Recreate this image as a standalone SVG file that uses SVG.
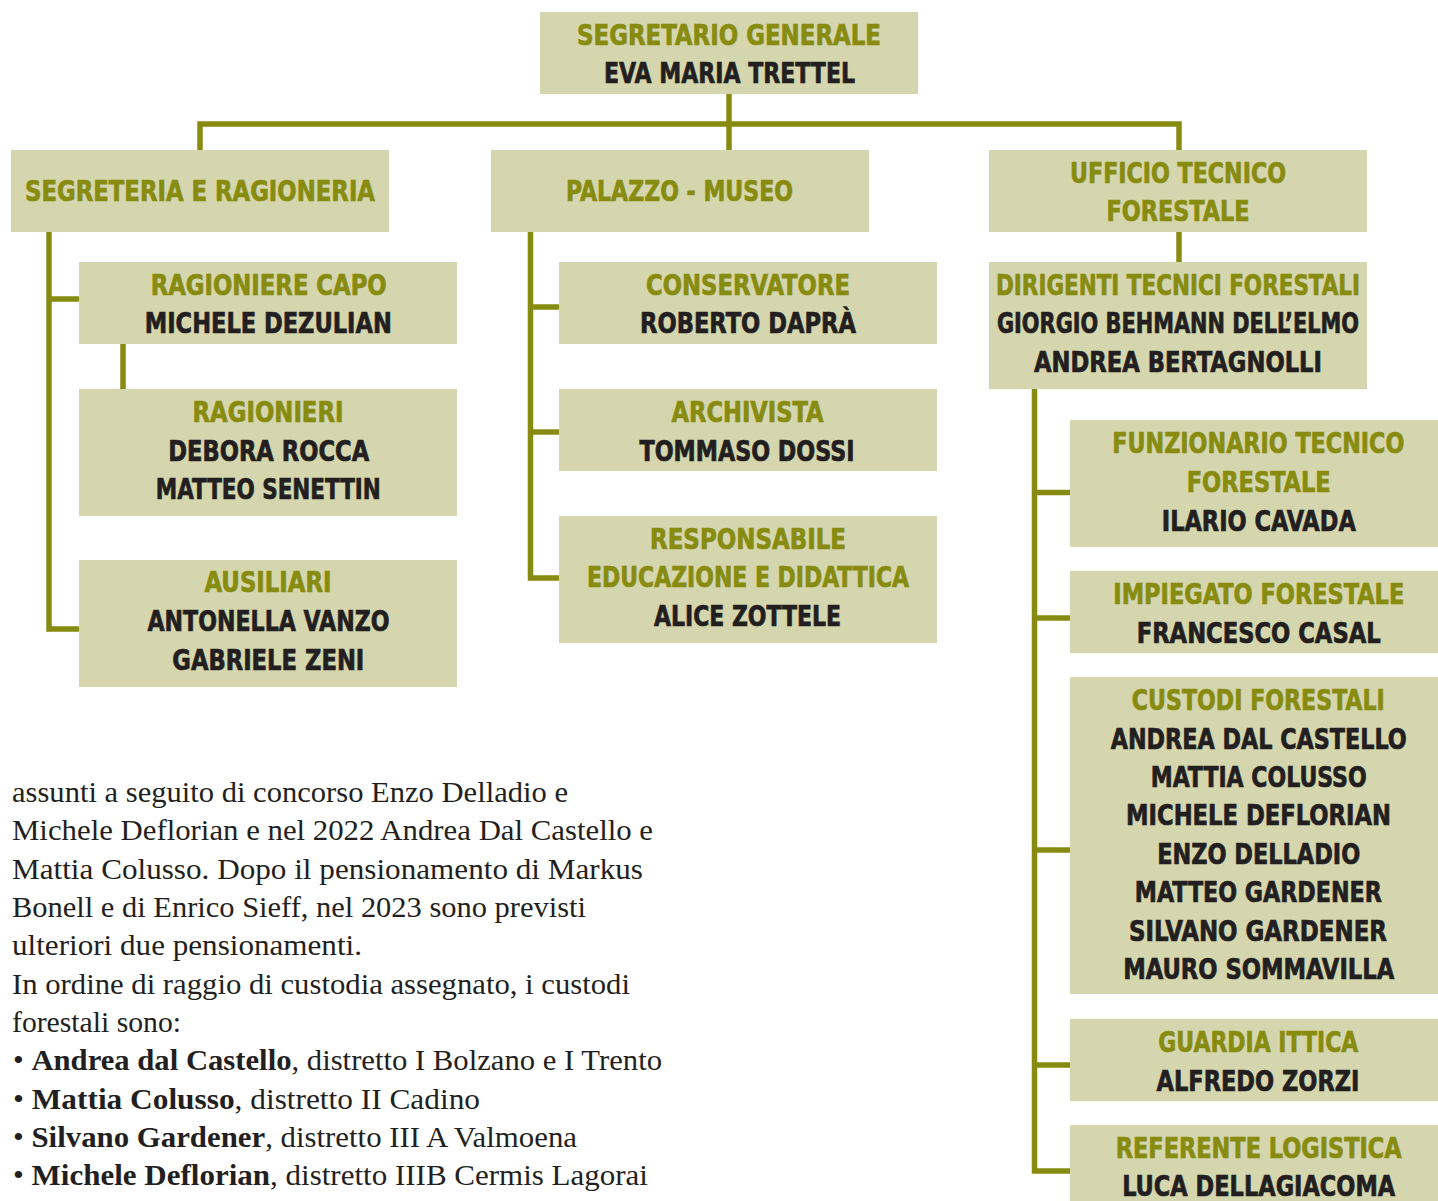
<svg xmlns="http://www.w3.org/2000/svg" width="1438" height="1201" viewBox="0 0 1438 1201">
<style>
.box{fill:#d5d6ae}
.t{font-family:"Liberation Sans Narrow","DejaVu Sans Condensed","Liberation Sans",sans-serif;font-weight:bold;font-size:29px;text-anchor:middle;fill:#878c10;stroke:#878c10;stroke-width:0.7px}
.n{font-family:"Liberation Sans Narrow","DejaVu Sans Condensed","Liberation Sans",sans-serif;font-weight:bold;font-size:29px;text-anchor:middle;fill:#231f20;stroke:#231f20;stroke-width:0.7px}
.c{fill:none;stroke:#878c10;stroke-width:5.5;stroke-linejoin:miter;stroke-linecap:butt}
.b{font-family:"Liberation Serif","Times New Roman",serif;font-size:29px;fill:#231f20}
.bb{font-weight:bold}
</style>
<rect width="1438" height="1201" fill="#ffffff"/>
<g id="connectors">
<path class="c" d="M729 93 V150"/>
<path class="c" d="M200 150 V124 H1179 V150"/>
<path class="c" d="M49 232 V629 H79"/>
<path class="c" d="M49 299 H79"/>
<path class="c" d="M123 344 V389"/>
<path class="c" d="M530.5 232 V578 H559"/>
<path class="c" d="M530.5 307 H559"/>
<path class="c" d="M530.5 432 H559"/>
<path class="c" d="M1179 232 V262"/>
<path class="c" d="M1034.5 389 V1171 H1070"/>
<path class="c" d="M1034.5 492.5 H1070"/>
<path class="c" d="M1034.5 618 H1070"/>
<path class="c" d="M1034.5 850 H1070"/>
<path class="c" d="M1034.5 1065 H1070"/>
</g>
<g id="segretario-generale">
<rect class="box" x="540" y="12" width="378" height="82"/>
<text class="t" x="729" y="45" textLength="304" lengthAdjust="spacingAndGlyphs">SEGRETARIO GENERALE</text>
<text class="n" x="729.5" y="83" textLength="251" lengthAdjust="spacingAndGlyphs">EVA MARIA TRETTEL</text>
</g>
<g id="segreteria">
<rect class="box" x="11" y="150" width="378" height="82"/>
<text class="t" x="200" y="201" textLength="350" lengthAdjust="spacingAndGlyphs">SEGRETERIA E RAGIONERIA</text>
</g>
<g id="palazzo">
<rect class="box" x="491" y="150" width="378" height="82"/>
<text class="t" x="679.5" y="201" textLength="227" lengthAdjust="spacingAndGlyphs">PALAZZO - MUSEO</text>
</g>
<g id="ufficio">
<rect class="box" x="989" y="150" width="378" height="82"/>
<text class="t" x="1178" y="182.5" textLength="216" lengthAdjust="spacingAndGlyphs">UFFICIO TECNICO</text>
<text class="t" x="1178" y="221" textLength="143" lengthAdjust="spacingAndGlyphs">FORESTALE</text>
</g>
<g id="ragioniere-capo">
<rect class="box" x="79" y="262" width="378" height="82"/>
<text class="t" x="268.7" y="295" textLength="236" lengthAdjust="spacingAndGlyphs">RAGIONIERE CAPO</text>
<text class="n" x="268.3" y="333" textLength="247" lengthAdjust="spacingAndGlyphs">MICHELE DEZULIAN</text>
</g>
<g id="ragionieri">
<rect class="box" x="79" y="389" width="378" height="127"/>
<text class="t" x="268" y="422" textLength="151" lengthAdjust="spacingAndGlyphs">RAGIONIERI</text>
<text class="n" x="268.7" y="460.5" textLength="201" lengthAdjust="spacingAndGlyphs">DEBORA ROCCA</text>
<text class="n" x="268.3" y="499" textLength="225" lengthAdjust="spacingAndGlyphs">MATTEO SENETTIN</text>
</g>
<g id="ausiliari">
<rect class="box" x="79" y="560" width="378" height="127"/>
<text class="t" x="268" y="592" textLength="127" lengthAdjust="spacingAndGlyphs">AUSILIARI</text>
<text class="n" x="268.5" y="631" textLength="242" lengthAdjust="spacingAndGlyphs">ANTONELLA VANZO</text>
<text class="n" x="268.3" y="669.5" textLength="192" lengthAdjust="spacingAndGlyphs">GABRIELE ZENI</text>
</g>
<g id="conservatore">
<rect class="box" x="559" y="262" width="378" height="82"/>
<text class="t" x="748" y="295" textLength="204" lengthAdjust="spacingAndGlyphs">CONSERVATORE</text>
<text class="n" x="748" y="333" textLength="216" lengthAdjust="spacingAndGlyphs">ROBERTO DAPRÀ</text>
</g>
<g id="archivista">
<rect class="box" x="559" y="389" width="378" height="82"/>
<text class="t" x="747.5" y="422" textLength="152" lengthAdjust="spacingAndGlyphs">ARCHIVISTA</text>
<text class="n" x="747" y="460.5" textLength="215" lengthAdjust="spacingAndGlyphs">TOMMASO DOSSI</text>
</g>
<g id="responsabile">
<rect class="box" x="559" y="516" width="378" height="127"/>
<text class="t" x="748" y="549" textLength="196" lengthAdjust="spacingAndGlyphs">RESPONSABILE</text>
<text class="t" x="748" y="587" textLength="322" lengthAdjust="spacingAndGlyphs">EDUCAZIONE E DIDATTICA</text>
<text class="n" x="747.5" y="625.5" textLength="187" lengthAdjust="spacingAndGlyphs">ALICE ZOTTELE</text>
</g>
<g id="dirigenti">
<rect class="box" x="989" y="262" width="378" height="127"/>
<text class="t" x="1178" y="295" textLength="364" lengthAdjust="spacingAndGlyphs">DIRIGENTI TECNICI FORESTALI</text>
<text class="n" x="1178" y="333" textLength="362" lengthAdjust="spacingAndGlyphs">GIORGIO BEHMANN DELL’ELMO</text>
<text class="n" x="1178" y="371.5" textLength="288" lengthAdjust="spacingAndGlyphs">ANDREA BERTAGNOLLI</text>
</g>
<g id="funzionario">
<rect class="box" x="1070" y="420" width="368" height="127"/>
<text class="t" x="1258.3" y="453" textLength="292" lengthAdjust="spacingAndGlyphs">FUNZIONARIO TECNICO</text>
<text class="t" x="1258.7" y="492" textLength="144" lengthAdjust="spacingAndGlyphs">FORESTALE</text>
<text class="n" x="1258.8" y="530.5" textLength="194" lengthAdjust="spacingAndGlyphs">ILARIO CAVADA</text>
</g>
<g id="impiegato">
<rect class="box" x="1070" y="571" width="368" height="82"/>
<text class="t" x="1258.8" y="604" textLength="291" lengthAdjust="spacingAndGlyphs">IMPIEGATO FORESTALE</text>
<text class="n" x="1258.7" y="642.5" textLength="244" lengthAdjust="spacingAndGlyphs">FRANCESCO CASAL</text>
</g>
<g id="custodi">
<rect class="box" x="1070" y="677" width="368" height="317"/>
<text class="t" x="1258.3" y="710" textLength="253" lengthAdjust="spacingAndGlyphs">CUSTODI FORESTALI</text>
<text class="n" x="1258.7" y="749" textLength="296" lengthAdjust="spacingAndGlyphs">ANDREA DAL CASTELLO</text>
<text class="n" x="1258.7" y="787" textLength="216" lengthAdjust="spacingAndGlyphs">MATTIA COLUSSO</text>
<text class="n" x="1258.5" y="825" textLength="265" lengthAdjust="spacingAndGlyphs">MICHELE DEFLORIAN</text>
<text class="n" x="1258.7" y="863.5" textLength="203" lengthAdjust="spacingAndGlyphs">ENZO DELLADIO</text>
<text class="n" x="1258.3" y="901.5" textLength="247" lengthAdjust="spacingAndGlyphs">MATTEO GARDENER</text>
<text class="n" x="1258" y="940.5" textLength="258" lengthAdjust="spacingAndGlyphs">SILVANO GARDENER</text>
<text class="n" x="1258.7" y="979" textLength="271" lengthAdjust="spacingAndGlyphs">MAURO SOMMAVILLA</text>
</g>
<g id="guardia">
<rect class="box" x="1070" y="1019" width="368" height="82"/>
<text class="t" x="1258.3" y="1052" textLength="200" lengthAdjust="spacingAndGlyphs">GUARDIA ITTICA</text>
<text class="n" x="1258" y="1090.5" textLength="203" lengthAdjust="spacingAndGlyphs">ALFREDO ZORZI</text>
</g>
<g id="referente">
<rect class="box" x="1070" y="1125" width="368" height="76"/>
<text class="t" x="1258.7" y="1157.5" textLength="286" lengthAdjust="spacingAndGlyphs">REFERENTE LOGISTICA</text>
<text class="n" x="1258.7" y="1195.5" textLength="273" lengthAdjust="spacingAndGlyphs">LUCA DELLAGIACOMA</text>
</g>
<g id="body-text">
<text class="b" x="12" y="802" textLength="556" lengthAdjust="spacingAndGlyphs">assunti a seguito di concorso Enzo Delladio e</text>
<text class="b" x="12" y="840.3" textLength="641" lengthAdjust="spacingAndGlyphs">Michele Deflorian e nel 2022 Andrea Dal Castello e</text>
<text class="b" x="12" y="878.6" textLength="631" lengthAdjust="spacingAndGlyphs">Mattia Colusso. Dopo il pensionamento di Markus</text>
<text class="b" x="12" y="917" textLength="574" lengthAdjust="spacingAndGlyphs">Bonell e di Enrico Sieff, nel 2023 sono previsti</text>
<text class="b" x="12" y="955.3" textLength="350" lengthAdjust="spacingAndGlyphs">ulteriori due pensionamenti.</text>
<text class="b" x="12" y="993.6" textLength="618" lengthAdjust="spacingAndGlyphs">In ordine di raggio di custodia assegnato, i custodi</text>
<text class="b" x="12" y="1032" textLength="169" lengthAdjust="spacingAndGlyphs">forestali sono:</text>
<text class="b" x="13" y="1070.3" textLength="649" lengthAdjust="spacingAndGlyphs">• <tspan class="bb">Andrea dal Castello</tspan>, distretto I Bolzano e I Trento</text>
<text class="b" x="13" y="1108.6" textLength="467" lengthAdjust="spacingAndGlyphs">• <tspan class="bb">Mattia Colusso</tspan>, distretto II Cadino</text>
<text class="b" x="13" y="1147" textLength="564" lengthAdjust="spacingAndGlyphs">• <tspan class="bb">Silvano Gardener</tspan>, distretto III A Valmoena</text>
<text class="b" x="13" y="1185.3" textLength="635" lengthAdjust="spacingAndGlyphs">• <tspan class="bb">Michele Deflorian</tspan>, distretto IIIB Cermis Lagorai</text>
</g>
</svg>
